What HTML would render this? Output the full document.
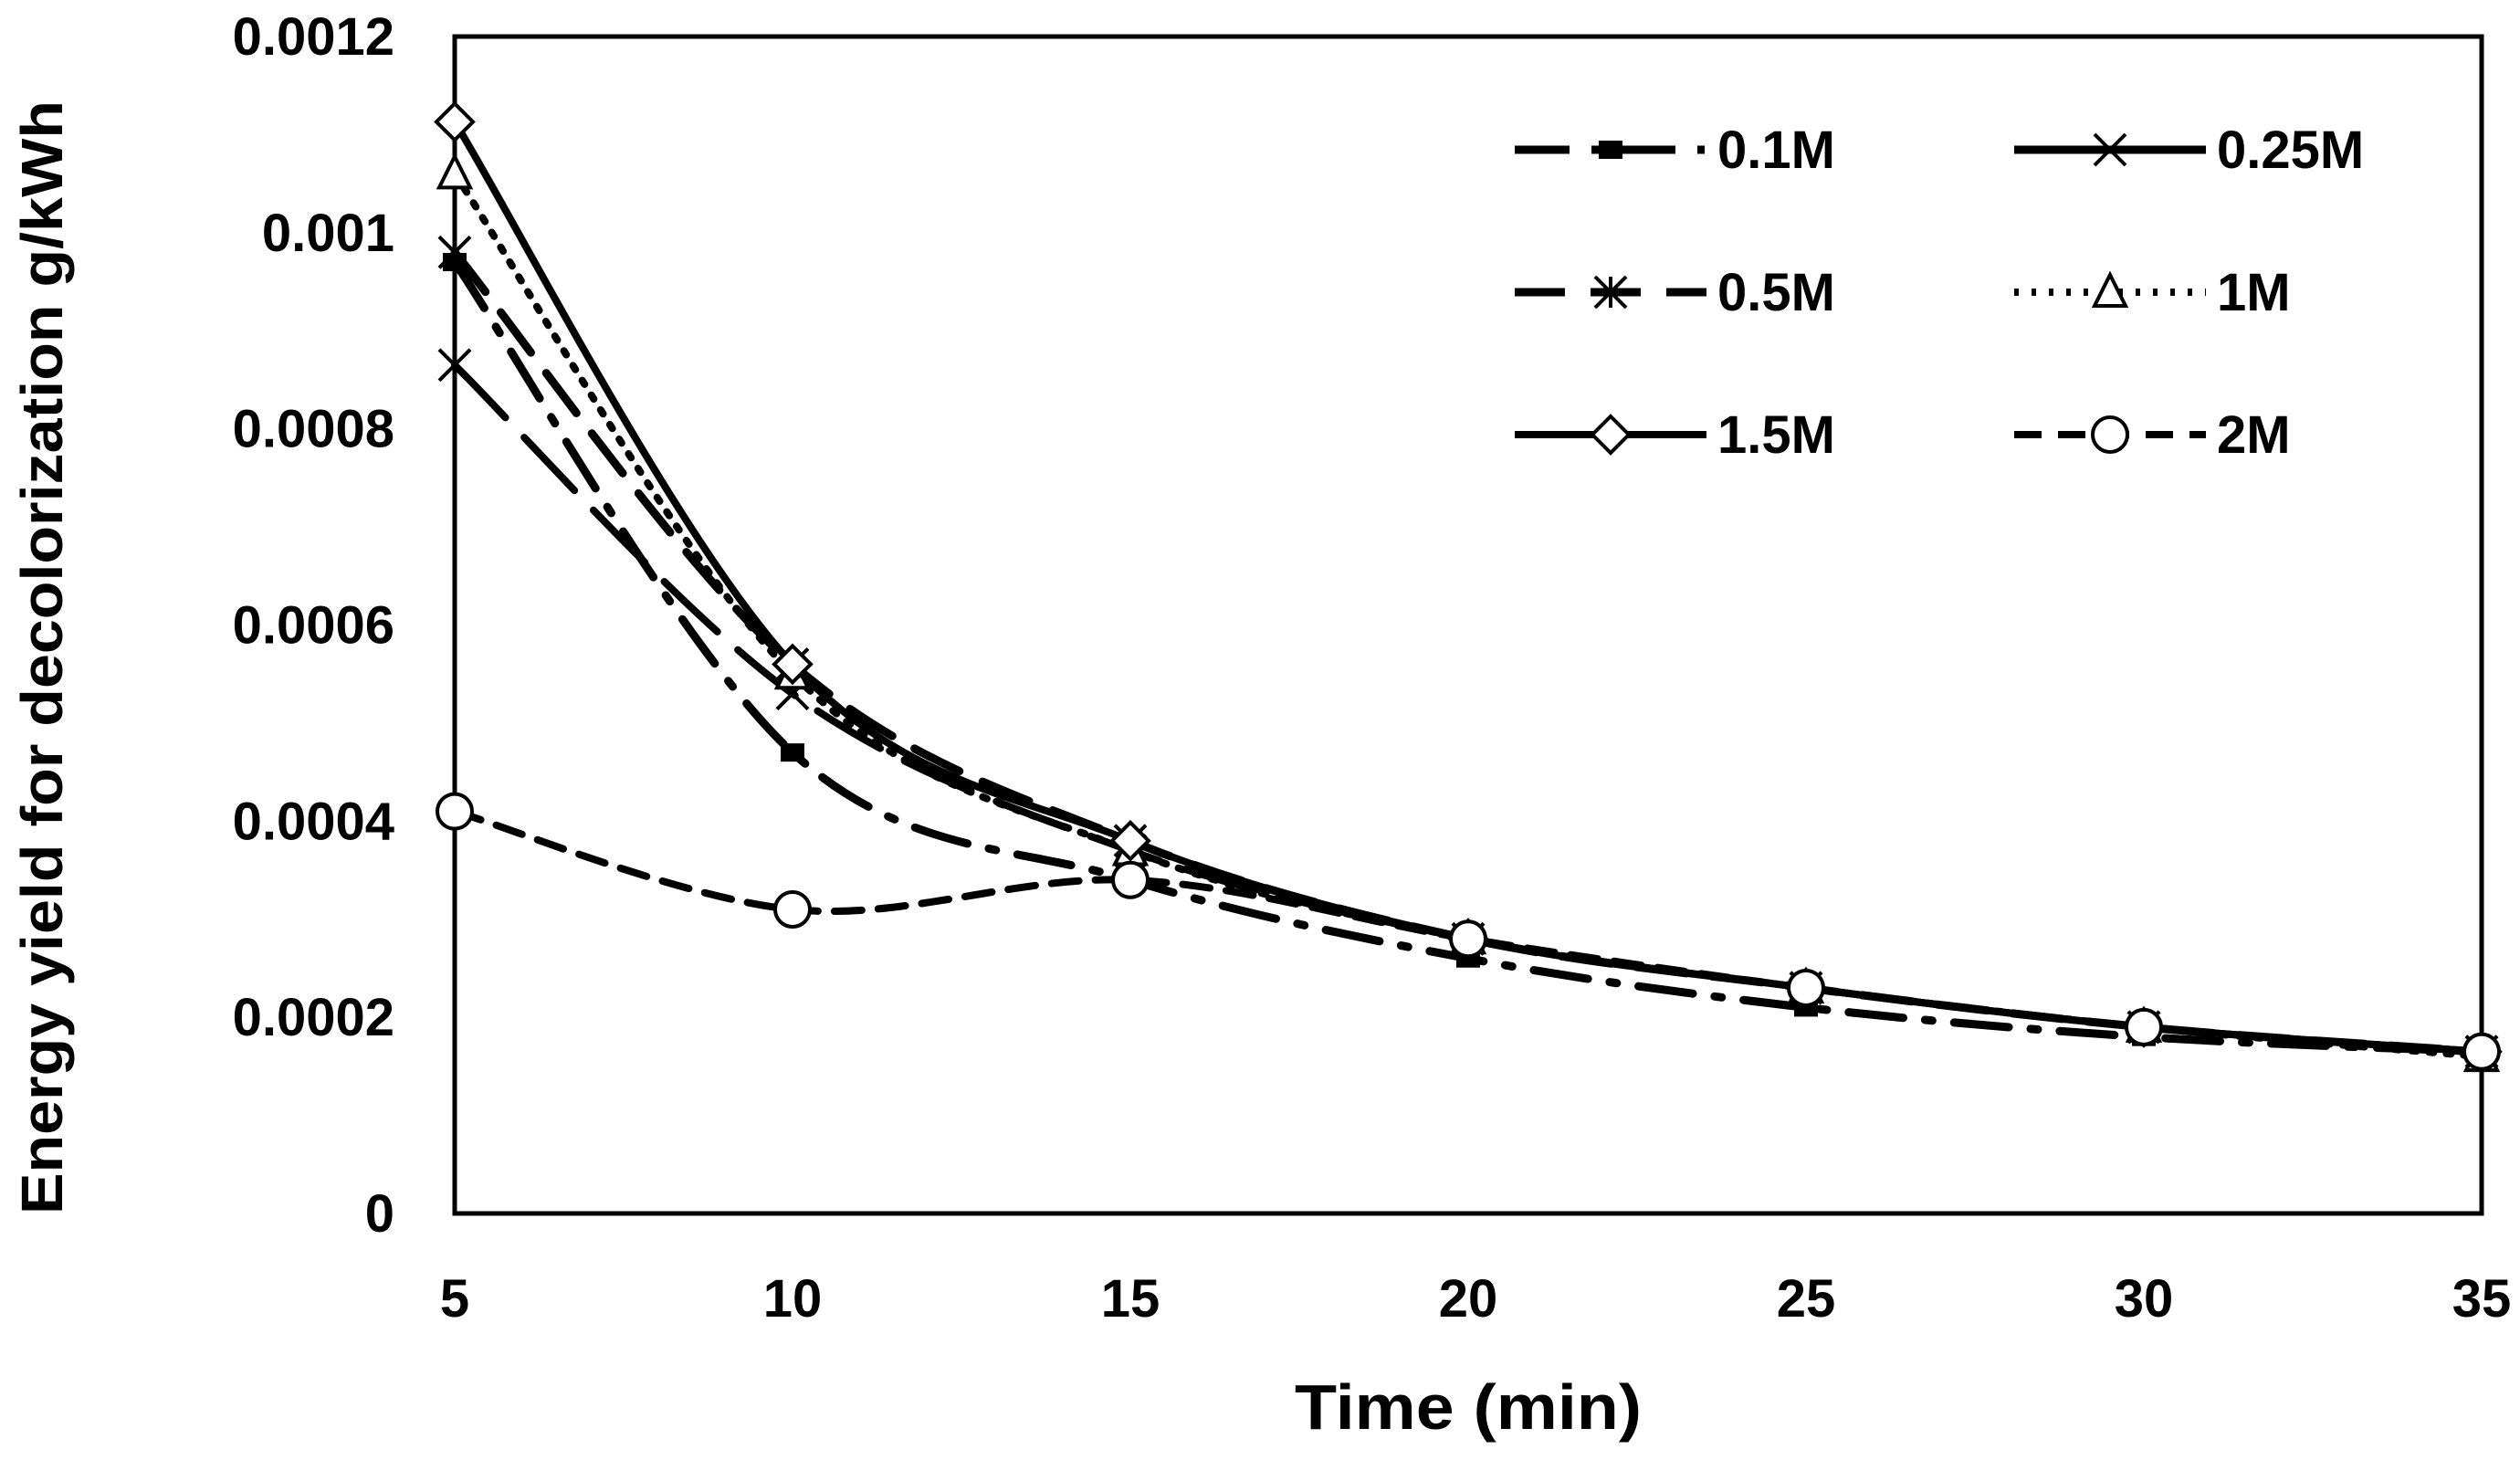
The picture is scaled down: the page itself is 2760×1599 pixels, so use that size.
<!DOCTYPE html>
<html><head><meta charset="utf-8"><style>
body{margin:0;background:#fff}
svg{display:block}
text{font-family:"Liberation Sans",sans-serif;font-weight:bold;fill:#000}
</style></head><body>
<svg id="chart" width="2760" height="1599" viewBox="0 0 2760 1599" xmlns="http://www.w3.org/2000/svg">
<rect x="498" y="40" width="2220" height="1289" fill="none" stroke="#000" stroke-width="5"/>
<g id="axes"></g><g id="series"></g><g id="legend"></g>
<text x="1608" y="1565" font-size="70" text-anchor="middle" textLength="380" lengthAdjust="spacingAndGlyphs">Time (min)</text>
<text transform="translate(68,720) rotate(-90)" font-size="64" text-anchor="middle" textLength="1220" lengthAdjust="spacingAndGlyphs">Energy yield for decolorization g/kWh</text>
</svg>
<script>
const xTicks=[5,10,15,20,25,30,35];
const yTicks=[0,0.0002,0.0004,0.0006,0.0008,0.001,0.0012];
const yTickLabels=["0","0.0002","0.0004","0.0006","0.0008","0.001","0.0012"];
const times=[5,10,15,20,25,30,35];
const s01=[0.00097,0.00047,0.00034,0.00026,0.00021,0.00018,0.000165];
const s025=[0.000865,0.00053,0.00037,0.00028,0.00023,0.00019,0.000165];
const s05=[0.00098,0.00056,0.00038,0.00028,0.00023,0.00019,0.000165];
const s1=[0.00106,0.00055,0.00037,0.00028,0.00023,0.00019,0.00016];
const s15=[0.001113,0.00056,0.00038,0.00028,0.00023,0.00019,0.000165];
const s2=[0.00041,0.00031,0.00034,0.00028,0.00023,0.00019,0.000165];
const seriesNames=["0.1M","0.25M","0.5M","1M","1.5M","2M"];

const NS="http://www.w3.org/2000/svg";
const X0=498,X1=2718,Y0=1329,Y1=40;
const xs=v=>X0+(v-5)/30*(X1-X0);
const ys=v=>Y0-v/0.0012*(Y0-Y1);
function mk(tag,parent){const e=document.createElementNS(NS,tag);parent.appendChild(e);return e;}
const axes=document.getElementById('axes');
xTicks.forEach(t=>{const e=mk('text',axes);


e.setAttribute('x',xs(t));e.setAttribute('y',1442);e.setAttribute('font-size','58');e.setAttribute('text-anchor','middle');e.textContent=t;});
yTicks.forEach((t,i)=>{const e=mk('text',axes);


e.setAttribute('x',432);e.setAttribute('y',ys(t)+20);e.setAttribute('font-size','58');e.setAttribute('text-anchor','end');e.textContent=yTickLabels[i];});

function smoothPath(pts){let d=`M${pts[0][0]},${pts[0][1]}`;
for(let i=0;i<pts.length-1;i++){const p0=pts[Math.max(0,i-1)],p1=pts[i],p2=pts[i+1],p3=pts[Math.min(pts.length-1,i+2)];
const c1=[p1[0]+(p2[0]-p0[0])/6,p1[1]+(p2[1]-p0[1])/6],c2=[p2[0]-(p3[0]-p1[0])/6,p2[1]-(p3[1]-p1[1])/6];
d+=` C${c1[0]},${c1[1]} ${c2[0]},${c2[1]} ${p2[0]},${p2[1]}`;}return d;}
function marker(g,type,x,y){let e;const r=17;
if(type==='x'){e=mk('path',g);e.setAttribute('d',`M${x-r},${y-r}L${x+r},${y+r}M${x-r},${y+r}L${x+r},${y-r}`);}
else if(type==='star'){e=mk('path',g);e.setAttribute('d',`M${x-r},${y-r}L${x+r},${y+r}M${x-r},${y+r}L${x+r},${y-r}M${x},${y-r}L${x},${y+r}`);}
else if(type==='tri'){e=mk('path',g);e.setAttribute('d',`M${x},${y-r-2}L${x+r},${y+r-2}L${x-r},${y+r-2}Z`);e.setAttribute('fill','#fff');}
else if(type==='dia'){e=mk('path',g);e.setAttribute('d',`M${x},${y-r-3}L${x+r+3},${y}L${x},${y+r+3}L${x-r-3},${y}Z`);e.setAttribute('fill','#fff');}
else if(type==='circ'){e=mk('circle',g);e.setAttribute('cx',x);e.setAttribute('cy',y);e.setAttribute('r',r+2);e.setAttribute('fill','#fff');}
else if(type==='sq'){e=mk('rect',g);e.setAttribute('x',x-11);e.setAttribute('y',y-8);e.setAttribute('width',22);e.setAttribute('height',16);e.setAttribute('fill','#000');}
if(!e)return;e.setAttribute('stroke','#000');e.setAttribute('stroke-width','4');

}
const data=[s01,s025,s05,s1,s15,s2];
const dashes=["60 24 8 24","80 30","55 28","5 14","none","30 18"];
const widths=[9,8,9,8,8,8];
const marks=["sq","x","star","tri","dia","circ"];
const sg=document.getElementById('series');
const lg=document.getElementById('legend');
data.forEach((arr,k)=>{const g=mk('g',sg);


const p=mk('path',g);


p.setAttribute('d',smoothPath(times.map((t,i)=>[xs(t),ys(arr[i])])));
p.setAttribute('fill','none');p.setAttribute('stroke','#000');p.setAttribute('stroke-width',widths[k]);p.setAttribute('stroke-linecap','round');
if(dashes[k]!=='none')p.setAttribute('stroke-dasharray',dashes[k]);
times.forEach((t,i)=>marker(g,marks[k],xs(t),ys(arr[i])));
const col=k%2,row=Math.floor(k/2);
const lx=col?2206:1659,ly=164+row*156;
const le=mk('g',lg);


const l=mk('line',le);


l.setAttribute('x1',lx);l.setAttribute('x2',lx+210);l.setAttribute('y1',ly);l.setAttribute('y2',ly);
l.setAttribute('stroke','#000');l.setAttribute('stroke-width',widths[k]);
if(k===1)l.setAttribute('stroke-width',9);
else if(dashes[k]!=='none')l.setAttribute('stroke-dasharray',dashes[k]);
marker(le,marks[k],lx+105,ly);
const tx=mk('text',le);


tx.setAttribute('x',lx+222);tx.setAttribute('y',ly+20);tx.setAttribute('font-size','58');tx.textContent=seriesNames[k];
});
</script>
</body></html>
